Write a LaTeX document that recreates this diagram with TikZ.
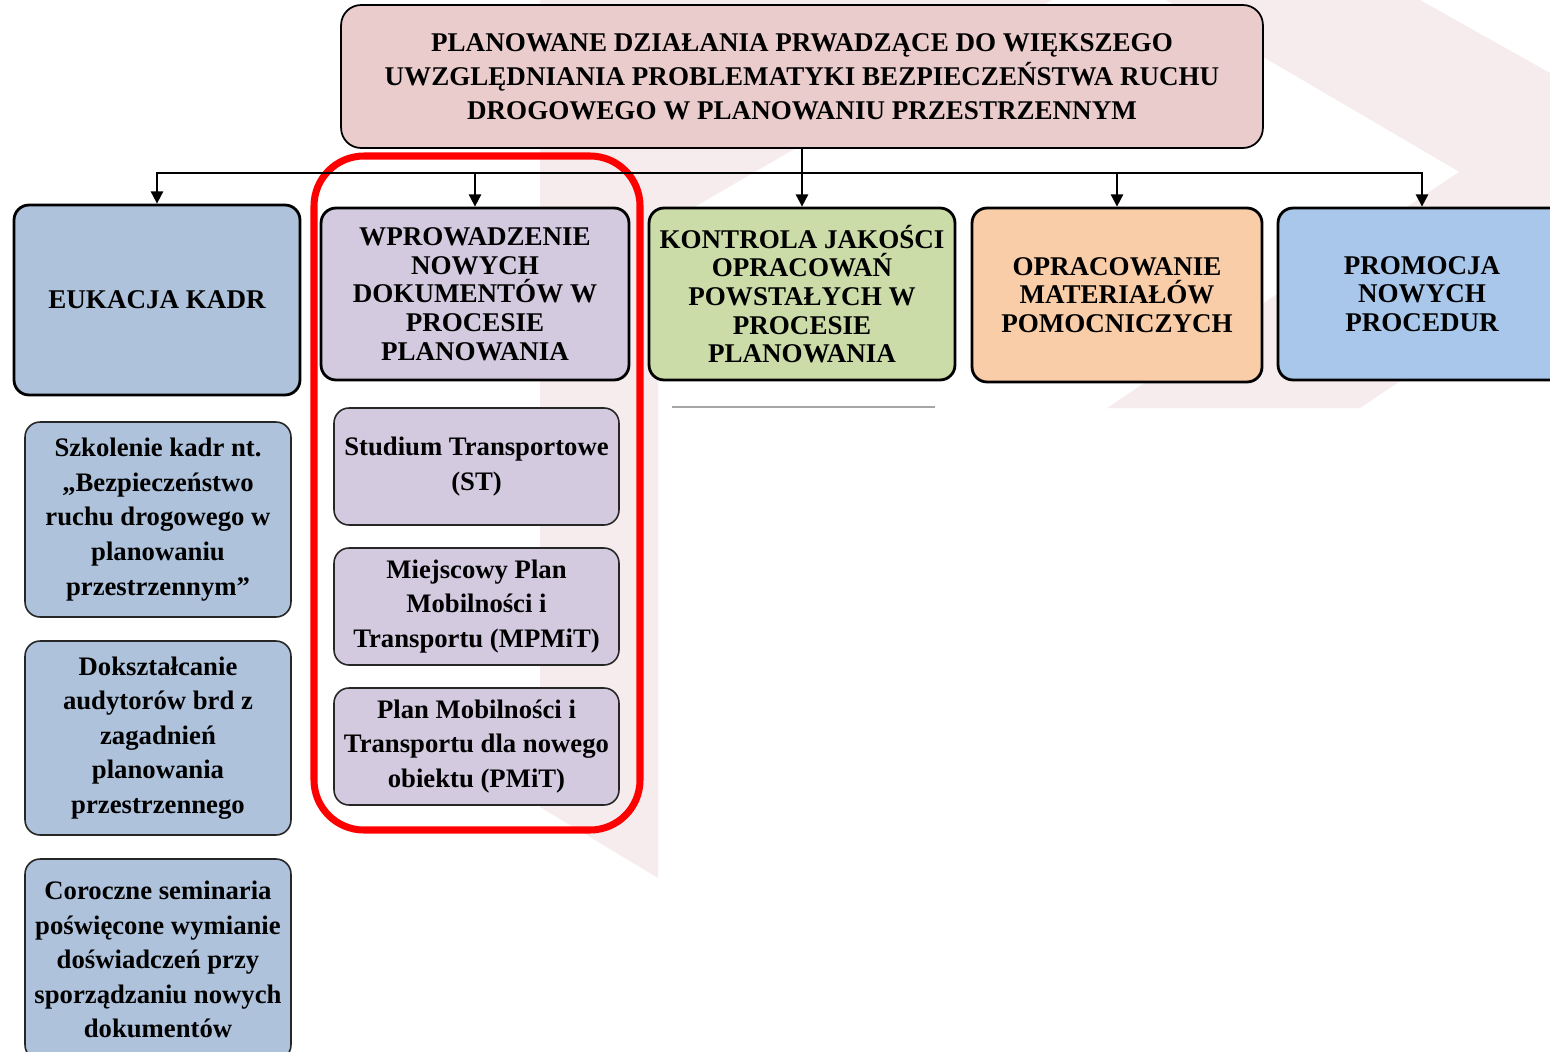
\documentclass[tikz,border=0pt]{standalone}
\usepackage{fontspec}
\setmainfont{Liberation Serif}
\usetikzlibrary{arrows.meta}
\definecolor{wm}{RGB}{246,236,237}
\definecolor{titlepink}{RGB}{234,204,204}
\definecolor{edublue}{RGB}{174,194,219}
\definecolor{purp}{RGB}{211,202,224}
\definecolor{kgreen}{RGB}{204,220,168}
\definecolor{korange}{RGB}{249,205,168}
\definecolor{pblue}{RGB}{169,199,235}
\tikzset{
  titlebox/.style={draw=black, line width=1pt, rounded corners=0.4cm, align=center, inner sep=0pt,
    font=\fontsize{15.4}{19.3}\selectfont\bfseries},
  topbox/.style={draw=black, line width=1.6pt, rounded corners=0.3cm, align=center, inner sep=0pt,
    font=\fontsize{15.4}{16.3}\selectfont\bfseries},
  subbox/.style={draw=black!85, line width=0.9pt, rounded corners=0.3cm, align=center, inner sep=0pt,
    font=\fontsize{15.2}{19.7}\selectfont\bfseries},
  conn/.style={line width=1.1pt, -{Triangle[length=7pt,width=7pt]}},
  redframe/.style={draw=red, line width=4pt, rounded corners=1cm}
}
\begin{document}
\begin{tikzpicture}[x=0.02cm,y=-0.02cm]
\clip (0,0) rectangle (1550,1051);
\fill[white] (0,0) rectangle (1550,1051);
% watermark
\fill[wm] (540,0) -- (1052,0) -- (658,228) -- (658,878) -- (540,807) -- cycle;
\fill[wm] (1166,0) -- (1420,0) -- (1550,73) -- (1550,225) -- cycle;
\fill[wm] (1107,408) -- (1360,408) -- (1550,281) -- (1550,111) -- cycle;
\draw[black!35, line width=0.8pt] (672,407) -- (935,407);

% title
\node[titlebox, fill=titlepink, minimum width=18.44cm, minimum height=2.86cm] (title) at (802,76.5)
  {PLANOWANE DZIAŁANIA PRWADZĄCE DO WIĘKSZEGO\\UWZGLĘDNIANIA PROBLEMATYKI BEZPIECZEŃSTWA RUCHU\\DROGOWEGO W PLANOWANIU PRZESTRZENNYM};

% red frame
\draw[redframe] (314,156) rectangle (640,830);

% top row
\node[topbox, fill=edublue, minimum width=5.72cm, minimum height=3.8cm] (eduk) at (157,300) {EUKACJA KADR};
\node[topbox, fill=purp, minimum width=6.16cm, minimum height=3.44cm] (wpro) at (475,294)
  {WPROWADZENIE\\NOWYCH\\DOKUMENTÓW W\\PROCESIE\\PLANOWANIA};
\node[topbox, fill=kgreen, minimum width=6.12cm, minimum height=3.44cm] (kontr) at (802,294)
  {KONTROLA JAKOŚCI\\OPRACOWAŃ\\POWSTAŁYCH W\\PROCESIE\\PLANOWANIA};
\node[topbox, fill=korange, minimum width=5.8cm, minimum height=3.48cm] (oprac) at (1117,295)
  {OPRACOWANIE\\MATERIAŁÓW\\POMOCNICZYCH};
\node[topbox, fill=pblue, minimum width=5.76cm, minimum height=3.44cm] (promo) at (1422,294)
  {PROMOCJA\\NOWYCH\\PROCEDUR};

% connectors
\coordinate (bus) at (802,173);
\draw[conn] (title.south) -- (bus) -| (eduk.north);
\draw[conn] (title.south) -- (bus) -| (wpro.north);
\draw[conn] (title.south) -- (kontr.north);
\draw[conn] (title.south) -- (bus) -| (oprac.north);
\draw[conn] (title.south) -- (bus) -| (promo.north);

% left column
\node[subbox, fill=edublue, minimum width=5.32cm, minimum height=3.9cm] (szk) at (158,519.5)
  {Szkolenie kadr nt.\\„Bezpieczeństwo\\ruchu drogowego w\\planowaniu\\przestrzennym”};
\node[subbox, fill=edublue, minimum width=5.32cm, minimum height=3.88cm] (dok) at (158,738)
  {Dokształcanie\\audytorów brd z\\zagadnień\\planowania\\przestrzennego};
\node[subbox, fill=edublue, minimum width=5.32cm, minimum height=4.02cm] (cor) at (158,959.5)
  {Coroczne seminaria\\poświęcone wymianie\\doświadczeń przy\\sporządzaniu nowych\\dokumentów};

% purple column
\node[subbox, fill=purp, minimum width=5.7cm, minimum height=2.34cm] (st) at (476.5,466.5)
  {Studium Transportowe\\(ST)};
\node[subbox, fill=purp, minimum width=5.7cm, minimum height=2.34cm] (mp) at (476.5,606.5)
  {Miejscowy Plan\\Mobilności i\\Transportu (MPMiT)};
\node[subbox, fill=purp, minimum width=5.7cm, minimum height=2.34cm] (pm) at (476.5,746.5)
  {Plan Mobilności i\\Transportu dla nowego\\obiektu (PMiT)};
\end{tikzpicture}
\end{document}
